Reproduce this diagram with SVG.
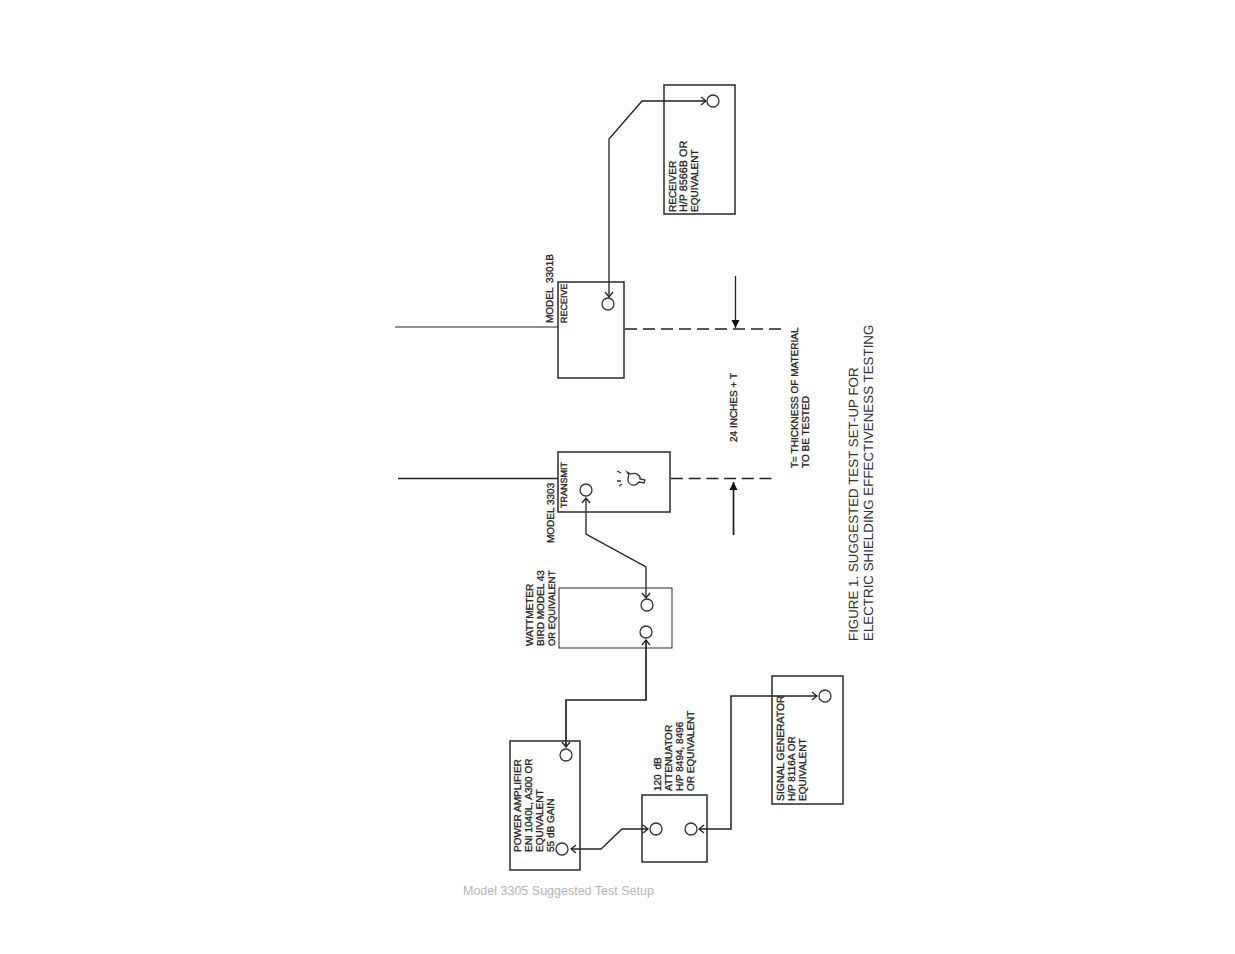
<svg xmlns="http://www.w3.org/2000/svg" width="1235" height="954" viewBox="0 0 1235 954">
<style>
.b{fill:none;stroke:#2a2a2a;stroke-width:1.5}
.c{fill:none;stroke:#333;stroke-width:1.3}
.l{fill:none;stroke:#222;stroke-width:1.3}
.t{font-family:"Liberation Sans",Arial,sans-serif;font-size:10px;fill:#222;stroke:#222;stroke-width:.3;text-rendering:geometricPrecision}
.f{font-family:"Liberation Sans",Arial,sans-serif;font-size:13.350px;fill:#333;text-rendering:geometricPrecision}
.h{fill:none;stroke:#222;stroke-width:1.3}
</style>
<defs>
<marker id="o" markerWidth="8" markerHeight="10" refX="7" refY="5" orient="auto-start-reverse" markerUnits="userSpaceOnUse"><path d="M2 1L7 5L2 9" class="h"/></marker>
<marker id="s" markerWidth="10" markerHeight="10" refX="9" refY="5" orient="auto" markerUnits="userSpaceOnUse"><path d="M1 1L9 5L1 9z" fill="#111"/></marker>
</defs>
<rect width="1235" height="954" fill="#fff"/>
<g id="connectors">
<path class="l" d="M706 101H642L609 139V297" marker-end="url(#o)" marker-start="url(#o)"/>
<path class="l" d="M586 498V534L646 567V598" marker-start="url(#o)" marker-end="url(#o)"/>
<path class="l" d="M646 640V700H566V747" marker-start="url(#o)" marker-end="url(#o)" style="stroke-width:1.700"/>
<path class="l" d="M571 849H601L622 829H648" marker-start="url(#o)" marker-end="url(#o)"/>
<path class="l" d="M699 829H731V696H817" marker-start="url(#o)" marker-end="url(#o)" style="stroke-width:1.500"/>
<path class="l" d="M395 327H558" style="stroke-width:1"/>
<path class="l" d="M398 478.500H558" style="stroke-width:1.700"/>
<path class="l" d="M625 329H781" style="stroke-width:1.600;stroke-dasharray:12 6"/>
<path class="l" d="M671 478.500H773" style="stroke-width:1.600;stroke-dasharray:12 5.700"/>
<path class="l" d="M735.500 276V328" marker-end="url(#s)"/>
<path class="l" d="M733.500 535V482" marker-end="url(#s)" style="stroke-width:1.700"/>
</g>
<g id="receiver"><rect class="b" x="664" y="85" width="71" height="129"/><circle class="c" cx="713" cy="101" r="6"/>
<text class="t" transform="translate(676 212) rotate(-90)">RECEIVER</text><text class="t" style="font-size:10.800px" transform="translate(687 212) rotate(-90)">H/P 8566B OR</text><text class="t" transform="translate(698 212) rotate(-90)">EQUIVALENT</text></g>
<g id="receive"><rect class="b" x="558" y="282" width="66" height="96"/><circle class="c" cx="608" cy="304" r="6"/>
<text class="t" style="word-spacing:2px" transform="translate(553 323) rotate(-90)">MODEL 3301B</text><text class="t" style="font-size:9px" transform="translate(567 323) rotate(-90)">RECEIVE</text></g>
<g id="transmit"><rect class="b" x="558" y="452" width="112" height="60"/><circle class="c" cx="586" cy="490" r="6"/>
<text class="t" transform="translate(554 543) rotate(-90)">MODEL 3303</text><text class="t" style="font-size:9px" transform="translate(567 508) rotate(-90)">TRANSMIT</text>
<path class="c" d="M627 472L631 474C636 472 641 476 640 479L645 480L644 483L639 482C636 486 631 486 629 483C627 480 628 477 629 475Z"/><path class="c" d="M617 471L621 473M617 481H621M619 486L622 484"/></g>
<g id="wattmeter"><rect class="b" style="stroke-width:1" x="559" y="588" width="113" height="60"/><circle class="c" cx="647" cy="605" r="6"/><circle class="c" cx="646" cy="632" r="6"/>
<text class="t" transform="translate(533 646) rotate(-90)">WATTMETER</text><text class="t" transform="translate(544 646) rotate(-90)">BIRD MODEL 43</text><text class="t" style="font-size:9.400px" transform="translate(555 646) rotate(-90)">OR EQUIVALENT</text></g>
<g id="amplifier"><rect class="b" x="510" y="741" width="70" height="129"/><circle class="c" cx="566" cy="755" r="6"/><circle class="c" cx="562" cy="849" r="6"/>
<text class="t" transform="translate(521 852) rotate(-90)">POWER AMPLIFIER</text><text class="t" transform="translate(532 852) rotate(-90)">ENI 1040L, A300 OR</text><text class="t" transform="translate(543 852) rotate(-90)">EQUIVALENT</text><text class="t" transform="translate(554 852) rotate(-90)">55 dB GAIN</text></g>
<g id="attenuator"><rect class="b" x="642" y="795" width="65" height="67"/><circle class="c" cx="656" cy="829" r="6"/><circle class="c" cx="691" cy="829" r="6"/>
<text class="t" style="word-spacing:2px" transform="translate(661 791) rotate(-90)">120 dB</text><text class="t" transform="translate(672 791) rotate(-90)">ATTENUATOR</text><text class="t" transform="translate(683 791) rotate(-90)">H/P 8494, 8496</text><text class="t" transform="translate(694 791) rotate(-90)">OR EQUIVALENT</text></g>
<g id="generator"><rect class="b" x="772" y="676" width="71" height="128"/><circle class="c" cx="825" cy="696" r="6"/>
<text class="t" style="font-size:10.400px" transform="translate(784 801) rotate(-90)">SIGNAL GENERATOR</text><text class="t" transform="translate(795 801) rotate(-90)">H/P 8116A OR</text><text class="t" transform="translate(806 801) rotate(-90)">EQUIVALENT</text></g>
<g id="labels">
<text class="t" transform="translate(737 442) rotate(-90)">24 INCHES + T</text>
<text class="t" transform="translate(798 468) rotate(-90)">T= THICKNESS OF MATERIAL</text><text class="t" transform="translate(809 468) rotate(-90)">TO BE TESTED</text>
<text class="f" transform="translate(858 641) rotate(-90)">FIGURE 1. SUGGESTED TEST SET-UP FOR</text><text class="f" transform="translate(873 641) rotate(-90)">ELECTRIC SHIELDING EFFECTIVENESS TESTING</text>
<text x="463" y="895" style="font-family:'Liberation Sans',Arial,sans-serif;font-size:12.500px;fill:#b5b5b5">Model 3305 Suggested Test Setup</text>
</g>
</svg>
